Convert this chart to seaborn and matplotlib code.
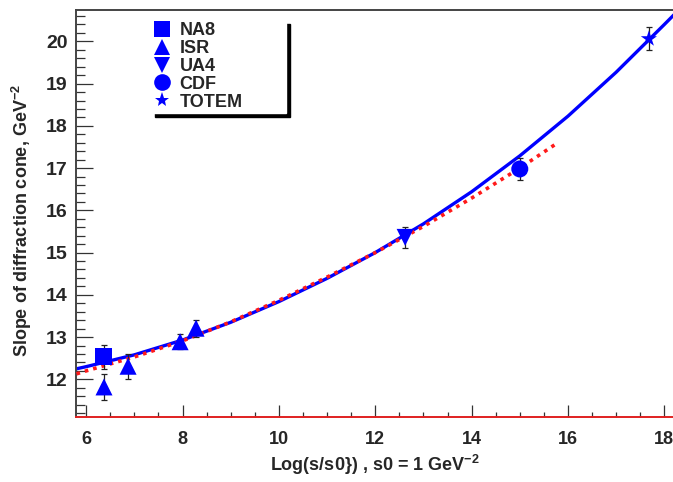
import matplotlib
matplotlib.use("Agg")
import matplotlib.pyplot as plt
import matplotlib.lines as mlines
import seaborn as sns
import pandas as pd

experiments = ["NA8", "ISR", "ISR", "ISR", "ISR", "UA4", "CDF", "TOTEM"]
log_s = [6.37, 6.37, 6.87, 7.95, 8.28, 12.62, 15.0, 17.68]
slope_b = [12.53, 11.82, 12.31, 12.89, 13.21, 15.36, 16.98, 20.06]
slope_err = [0.28, 0.30, 0.30, 0.18, 0.20, 0.25, 0.25, 0.27]

# model curves
blue_x = [5.8, 6, 7, 8, 9, 10, 11, 12, 13, 14, 15, 16, 17, 18, 18.2]
blue_y = [12.25, 12.30, 12.58, 12.93, 13.35, 13.84, 14.39, 15.00, 15.68, 16.44,
          17.29, 18.23, 19.27, 20.40, 20.63]
red_x = [5.8, 6, 7, 8, 9, 10, 11, 12, 13, 14, 15, 15.8]
red_y = [12.13, 12.20, 12.53, 12.91, 13.36, 13.87, 14.42, 15.00, 15.62, 16.29,
         17.00, 17.61]

legend_order = ["NA8", "ISR", "UA4", "CDF", "TOTEM"]
marker_map = {"NA8": "s", "ISR": "^", "UA4": "v", "CDF": "o", "TOTEM": "*"}

sns.set_theme(style="ticks")
plt.rcParams["font.family"] = ["Liberation Sans", "DejaVu Sans"]
plt.rcParams["font.weight"] = "bold"
plt.rcParams["mathtext.fontset"] = "custom"
plt.rcParams["mathtext.rm"] = "Liberation Sans:bold"
plt.rcParams["mathtext.bf"] = "Liberation Sans:bold"

df = pd.DataFrame({"exp": experiments, "x": log_s, "y": slope_b, "err": slope_err})

fig = plt.figure(figsize=(6.73, 4.82), dpi=100)
ax = fig.add_axes([0.113, 0.135, 0.887, 0.844])

sns.lineplot(x=blue_x, y=blue_y, ax=ax, color="#0000ff", lw=2.4, zorder=2)
sns.lineplot(x=red_x, y=red_y, ax=ax, color="#ff1a1a", lw=2.6,
             linestyle=(0, (1, 1.4)), zorder=3)
ax.errorbar(df["x"], df["y"], yerr=df["err"], fmt="none", ecolor="#222222",
            elinewidth=0.9, capsize=2.5, capthick=0.9, zorder=4)
sns.scatterplot(data=df, x="x", y="y", style="exp", style_order=legend_order,
                markers=marker_map, color="#0000ff", s=150, edgecolor="none",
                legend=False, ax=ax, zorder=5)

handles = [mlines.Line2D([], [], ls="none", marker=marker_map[k], color="#0000ff",
                         markersize=12 if k != "TOTEM" else 11, markeredgewidth=0)
           for k in legend_order]
leg = ax.legend(handles, legend_order, loc="upper left",
                bbox_to_anchor=(0.126, 0.7, 0.226, 0.276), mode="expand",
                borderaxespad=0, fontsize=13, labelspacing=0.05,
                handlelength=1.0, handletextpad=0.45, borderpad=0.12,
                frameon=True, fancybox=False,
                shadow={"ox": 3, "oy": -3, "color": "black", "alpha": 1})
leg.get_frame().set_edgecolor("white")
leg.get_frame().set_facecolor("white")
leg.get_frame().set_alpha(1)
for t in leg.get_texts():
    t.set_fontweight("bold")

ax.set_xlim(5.79, 18.18)
ax.set_ylim(11.11, 20.74)
ax.set_xticks([6, 8, 10, 12, 14, 16, 18])
ax.set_xticks([v / 2 for v in range(12, 37)], minor=True)
ax.set_yticks(range(12, 21))
ax.set_yticks([11.2 + 0.2 * i for i in range(48)], minor=True)

ax.tick_params(axis="both", which="both", bottom=True, left=True, top=False,
               right=False)
ax.tick_params(axis="x", which="major", direction="in", length=8.5, width=0.9,
               labelsize=13, pad=10, color="#333333")
ax.tick_params(axis="x", which="minor", direction="in", length=3.6, width=0.9,
               color="#333333")
ax.tick_params(axis="y", which="major", direction="in", length=12.5, width=0.9,
               labelsize=14, pad=6, color="#333333")
ax.tick_params(axis="y", which="minor", direction="in", length=6.5, width=0.9,
               color="#333333")
for lab in ax.get_xticklabels() + ax.get_yticklabels():
    lab.set_fontweight("bold")

ax.set_xlabel(r"Log(s/s0}) , s0 = 1 GeV$^{\mathbf{-2}}$", fontsize=13,
              fontweight="bold", labelpad=4)
ax.set_ylabel(r"Slope of diffraction cone, GeV$^{\mathbf{-2}}$", fontsize=13,
              fontweight="bold", labelpad=10)
ax.yaxis.set_label_coords(-0.07, 0.482)

for side in ["top", "left"]:
    ax.spines[side].set_color("#444444")
    ax.spines[side].set_linewidth(1.4)
ax.spines["right"].set_visible(False)
ax.spines["bottom"].set_color("#e02020")
ax.spines["bottom"].set_linewidth(1.4)

fig.savefig("out.png", dpi=100)
